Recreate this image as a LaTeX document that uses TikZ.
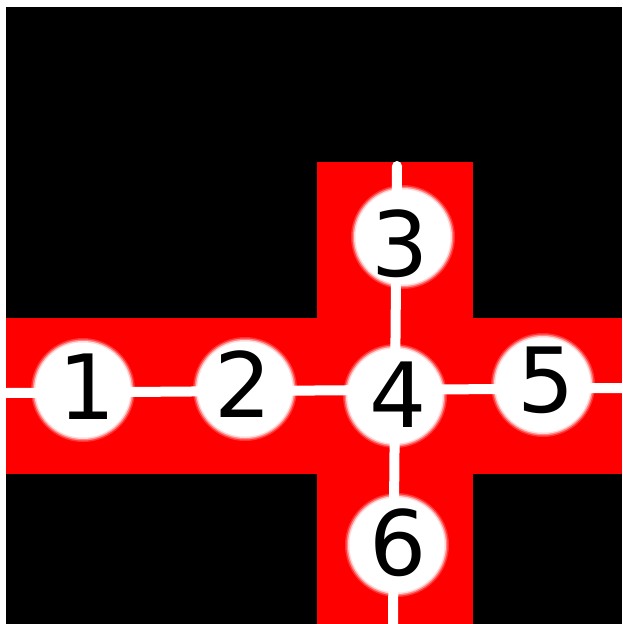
\documentclass[tikz,border=0pt]{standalone}
\usepackage{fontspec}
\setmainfont{DejaVu Sans}
\begin{document}
\begin{tikzpicture}[x=1pt,y=-1pt,
  band/.style={fill=red},
  track/.style={draw=white,line width=10pt},
  digit/.style={font=\fontsize{90}{90}\selectfont,text=black,inner sep=0pt}]
\useasboundingbox (0,0) rectangle (622,624);
\fill[white] (0,0) rectangle (622,624);
\fill[black] (6,7) rectangle (622,624);
% red cross
\fill[band] (6,318) rectangle (622,474);
\fill[band] (317,162) rectangle (473,624);
% stations
\foreach \n/\x/\y in {s1/83/390,s2/245/389,s3/403/237,s4/395/396,s5/543/385,s6/397/545}{
  \coordinate (\n) at (\x,\y);
}
\coordinate (L) at (6,393);
\coordinate (R) at (622,388);
\coordinate (T) at (397,166);
\coordinate (B) at (393,624);
\draw[track] (L) -- (R);
\draw[track,line cap=round] (T) -- (B);
\foreach \n in {s1,s2,s3,s4,s5,s6}{
  \fill[white,opacity=0.2] (\n) circle (52);
  \fill[white,opacity=0.4] (\n) circle (50.5);
  \fill[white,opacity=0.7] (\n) circle (49);
  \fill[white] (\n) circle (47.5);
}
\node[digit] (d1) at (87,387) {1};
\node[digit] (d2) at (243,384) {2};
\node[digit] (d3) at (400,244) {3};
\node[digit] (d4) at (398,395) {4};
\node[digit] (d5) at (546,380) {5};
\node[digit] (d6) at (398,543) {6};
\end{tikzpicture}
\end{document}
